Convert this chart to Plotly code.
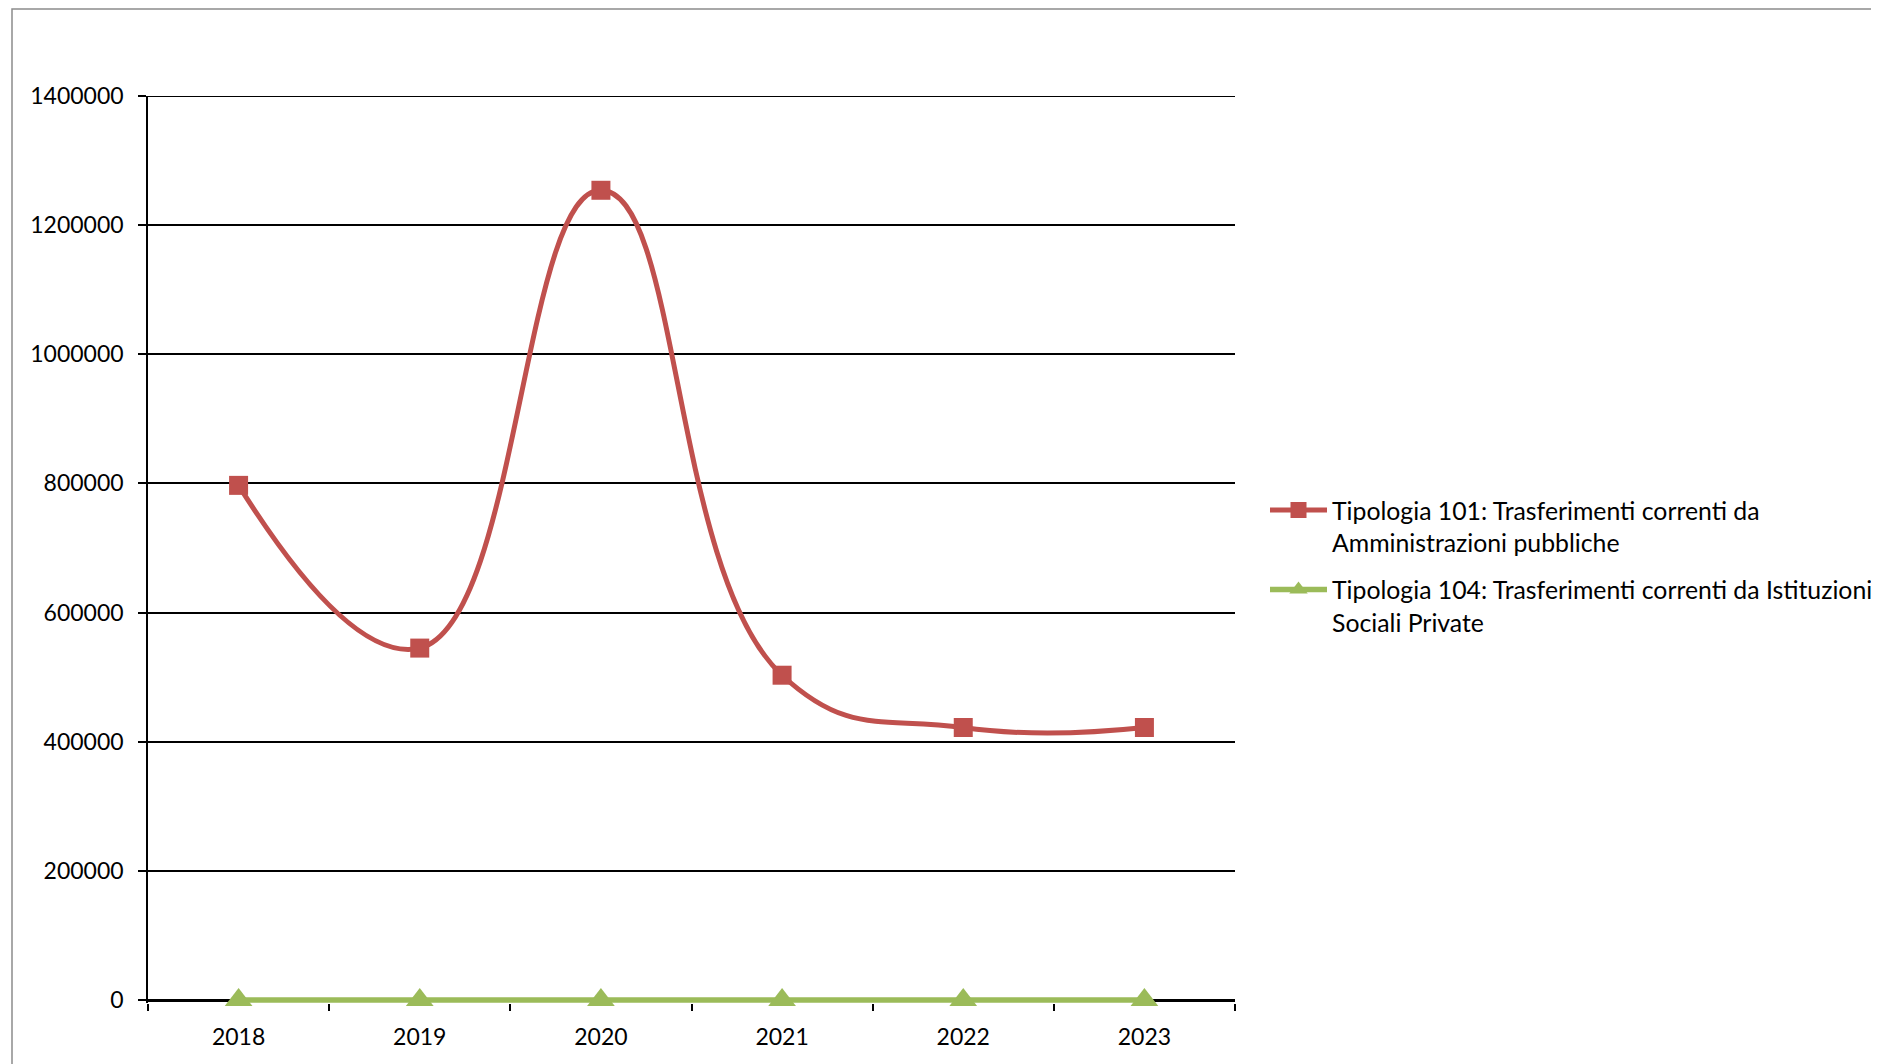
import plotly.graph_objects as go

years = ["2018", "2019", "2020", "2021", "2022", "2023"]
tip101 = [797000, 545000, 1254000, 503000, 422000, 422000]
tip104 = [0, 0, 0, 0, 0, 0]
name101 = "Tipologia 101: Trasferimenti correnti da<br>Amministrazioni pubbliche"
name104 = "Tipologia 104: Trasferimenti correnti da Istituzioni<br>Sociali Private"
y_ticks = [0, 200000, 400000, 600000, 800000, 1000000, 1200000, 1400000]
y_top = 1400000

W, H = 1879, 1064
OFF = 8  # default page body margin
# plot area in page pixels, converted to figure pixels
L, R, T, B = 148 - OFF, 1235 - OFF, 96 - OFF, 1003 - OFF
ZERO_PX = 1000 - OFF
eps = y_top * (B - ZERO_PX) / (ZERO_PX - T)

fig = go.Figure()
fig.add_trace(go.Scatter(
    x=years, y=tip101, name=name101, mode="lines+markers", legendgroup="a",
    line=dict(color="#C0504D", width=5, shape="spline", smoothing=1.3),
    marker=dict(symbol="square", size=19, color="#C0504D"),
    cliponaxis=False,
))
fig.add_trace(go.Scatter(
    x=years, y=tip104, name=name104, mode="lines+markers", legendgroup="b",
    line=dict(color="#9BBB59", width=5.5),
    marker=dict(symbol="triangle-up", size=24, color="#9BBB59"),
    cliponaxis=False,
))

pw, ph = R - L, B - T
def px(x): return (x - OFF - L) / pw      # page pixel -> paper
def py(y): return (B - (y - OFF)) / ph

fig.update_layout(
    width=W, height=H,
    margin=dict(l=L, r=W - R, t=T, b=H - B, autoexpand=False),
    paper_bgcolor="white", plot_bgcolor="white",
    font=dict(family="Lato", size=23, color="black"),
    showlegend=True,
    legend=dict(x=px(1265), y=py(487.5), xanchor="left", yanchor="top",
                valign="top", itemwidth=57, tracegroupgap=12,
                font=dict(family="Lato", size=24.8, color="black"),
                bgcolor="rgba(0,0,0,0)"),
    xaxis=dict(type="category", range=[-0.5, 5.5], tickson="boundaries",
               ticks="outside", ticklen=7, tickcolor="black", tickwidth=1.5,
               showline=False, showgrid=False, zeroline=False,
               layer="below traces",
               ticklabelstandoff=18, tickfont=dict(size=23)),
    yaxis=dict(range=[-eps, y_top], tickvals=y_ticks, tickformat="d",
               ticks="outside", ticklen=8, tickcolor="black", tickwidth=1.5,
               showline=True, linecolor="black", linewidth=1.5,
               showgrid=True, gridcolor="black", gridwidth=1.5,
               zeroline=True, zerolinecolor="black", zerolinewidth=2.5,
               layer="below traces",
               ticklabelstandoff=10, tickfont=dict(size=23)),
    shapes=[
        dict(type="rect", xref="paper", yref="paper",
             x0=px(12), x1=px(1900), y0=py(1090), y1=py(9),
             line=dict(color="#8c8c8c", width=1.5), fillcolor="rgba(0,0,0,0)",
             layer="below"),
        dict(type="line", xref="paper", yref="y", x0=0, x1=1, y0=y_top, y1=y_top,
             line=dict(color="black", width=2), layer="below"),
    ],
)

fig.write_html("out.html", config={"displayModeBar": False})
